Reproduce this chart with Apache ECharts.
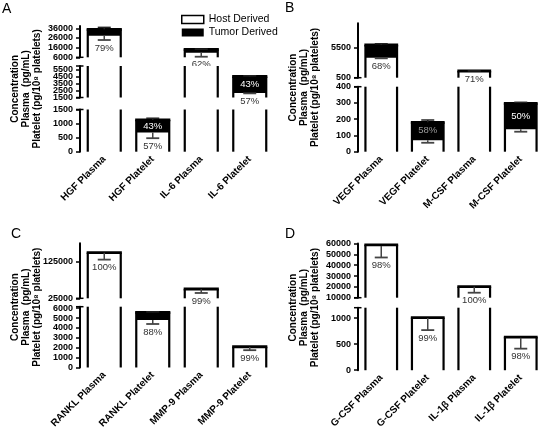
<!DOCTYPE html>
<html><head><meta charset="utf-8">
<script src="https://cdn.jsdelivr.net/npm/echarts@6/dist/echarts.min.js"></script>
<style>html,body{margin:0;padding:0;background:#fff}#c{width:544px;height:431px}</style>
</head><body><div id="c"></div>
<script>
// ---------- Panel A ----------
const catsA = ['HGF Plasma', 'HGF Platelet', 'IL-6 Plasma', 'IL-6 Platelet'];
const totalA = [35000, 1130, 14200, 4500];
const hostA = [28300, 680, 10700, 2150];
const errUpA = [2000, 60, 300, 100];
const errDownA = [4400, 200, 4100, 60];
const hostPctA = ['79%', '57%', '62%', '57%'];
const tumorPctA = ['', '43%', '', '43%'];
const rangesA = [[6000, 38400], [1500, 6000], [0, 1500]];
const ticksA = [[6000, 16000, 26000, 36000], [1500, 2500, 3500, 4500, 5500], [0, 500, 1000, 1500]];

// ---------- Panel B ----------
const catsB = ['VEGF Plasma', 'VEGF Platelet', 'M-CSF Plasma', 'M-CSF Platelet'];
const totalB = [5880, 181, 1600, 298];
const hostB = [3790, 70, 1550, 138];
const errUpB = [210, 14, 20, 6];
const errDownB = [100, 15, 0, 15];
const hostPctB = ['68%', '58%', '71%', ''];
const tumorPctB = ['', '', '', '50%'];
const rangesB = [[500, 9450], [0, 400]];
const ticksB = [[500, 5500], [0, 100, 200, 300, 400]];

// ---------- Panel C ----------
const catsC = ['RANKL Plasma', 'RANKL Platelet', 'MMP-9 Plasma', 'MMP-9 Platelet'];
const totalC = [149500, 5580, 50300, 2100];
const hostC = [149500, 4800, 49800, 2080];
const errUpC = [0, 50, 0, 0];
const errDownC = [19000, 400, 10300, 330];
const hostPctC = ['100%', '88%', '99%', '99%'];
const tumorPctC = ['', '', '', ''];
const rangesC = [[25000, 175000], [0, 6150]];
const ticksC = [[25000, 125000], [0, 1000, 2000, 3000, 4000, 5000, 6000]];

// ---------- Panel D ----------
const catsD = ['G-CSF Plasma', 'G-CSF Platelet', 'IL-1β Plasma', 'IL-1β Platelet'];
const totalD = [58800, 1010, 20200, 637];
const hostD = [57600, 1000, 20200, 624];
const errUpD = [0, 0, 0, 0];
const errDownD = [10500, 230, 5600, 210];
const hostPctD = ['98%', '99%', '100%', '98%'];
const tumorPctD = ['', '', '', ''];
const rangesD = [[10000, 60000], [0, 1200]];
const ticksD = [[10000, 20000, 30000, 40000, 50000, 60000], [0, 500, 1000]];

const legendNames = ['Host Derived', 'Tumor Derived'];
const titleLines = ['Concentration', 'Plasma  (pg/mL)', 'Platelet (pg/10\u2078 platelets)'];

const FONT = '"Liberation Sans", Arial, Helvetica, sans-serif';

const panels = [
  {letter: 'A', cats: catsA, total: totalA, host: hostA, up: errUpA, down: errDownA, hp: hostPctA, tp: tumorPctA, ranges: rangesA, ticks: ticksA,
   left: 80, segs: [[26, 31.3], [66, 31.5], [109.5, 42.2]], letterPos: [2, 2]},
  {letter: 'B', cats: catsB, total: totalB, host: hostB, up: errUpB, down: errDownB, hp: hostPctB, tp: tumorPctB, ranges: rangesB, ticks: ticksB,
   left: 358, segs: [[23.3, 54.4], [86.7, 65]], letterPos: [285, 1]},
  {letter: 'C', cats: catsC, total: totalC, host: hostC, up: errUpC, down: errDownC, hp: hostPctC, tp: tumorPctC, ranges: rangesC, ticks: ticksC,
   left: 80, segs: [[243.3, 55], [306.7, 64.3]], letterPos: [11, 227]},
  {letter: 'D', cats: catsD, total: totalD, host: hostD, up: errUpD, down: errDownD, hp: hostPctD, tp: tumorPctD, ranges: rangesD, ticks: ticksD,
   left: 358, segs: [[243.5, 54.2], [307.7, 64]], letterPos: [285, 227]}
];

const grid = [], xAxis = [], yAxis = [], series = [], graphic = [];

function makeRender(P, sIdx) {
  const [lo, hi] = P.ranges[sIdx];
  const nSeg = P.ranges.length;
  return function (params, api) {
    const i = api.value(0);
    const cs = params.coordSys;
    const yTop = cs.y, yBot = cs.y + cs.height;
    const cl = v => Math.max(yTop, Math.min(yBot, v));
    const yOf = v => api.coord([i, v])[1];
    const xc = api.coord([i, 0])[0];
    const bw = api.size([1, 0])[0] * 0.68;
    const x0 = xc - bw / 2, x1 = xc + bw / 2;
    const total = api.value(1), host = api.value(2), up = api.value(3), down = api.value(4);
    const py0 = yOf(0), pyH = yOf(host), pyT = yOf(total);
    const ch = [];
    const inSeg = v => v >= lo - 1e-9 && v <= hi + 1e-9;
    let a = cl(pyH), b = cl(py0);
    if (b - a > 0) ch.push({type: 'rect', shape: {x: x0, y: a, width: bw, height: b - a}, style: {fill: '#fff'}});
    a = cl(pyT); b = cl(pyH);
    if (b - a > 0) ch.push({type: 'rect', shape: {x: x0, y: a, width: bw, height: b - a}, style: {fill: '#000'}});
    a = cl(pyT); b = cl(py0);
    if (b - a > 0) {
      ch.push({type: 'line', shape: {x1: x0, y1: a, x2: x0, y2: b}, style: {stroke: '#000', lineWidth: 2.2}});
      ch.push({type: 'line', shape: {x1: x1, y1: a, x2: x1, y2: b}, style: {stroke: '#000', lineWidth: 2.2}});
    }
    if (inSeg(total)) ch.push({type: 'line', shape: {x1: x0 - 1.1, y1: pyT, x2: x1 + 1.1, y2: pyT}, style: {stroke: '#000', lineWidth: 2.8}});
    const capW = 6.5;
    if (up > 0) {
      const pe = yOf(total + up);
      a = cl(pe); b = cl(pyT);
      if (b - a > 0) ch.push({type: 'line', shape: {x1: xc, y1: a, x2: xc, y2: b}, style: {stroke: '#222', lineWidth: 1.5}});
      if (inSeg(total + up)) ch.push({type: 'line', shape: {x1: xc - capW, y1: pe, x2: xc + capW, y2: pe}, style: {stroke: '#222', lineWidth: 1.5}});
    }
    if (down > 0) {
      const pe = yOf(host - down);
      a = cl(pyH); b = cl(pe);
      if (b - a > 0) ch.push({type: 'line', shape: {x1: xc, y1: a, x2: xc, y2: b}, style: {stroke: '#444', lineWidth: 1.5}});
      if (inSeg(host - down)) ch.push({type: 'line', shape: {x1: xc - capW, y1: pe, x2: xc + capW, y2: pe}, style: {stroke: '#444', lineWidth: 1.8}});
    }
    const hp = P.hp[i];
    if (hp && inSeg(host)) {
      let ly = Math.max(pyH, yOf(host - down)) + 8;
      let col = '#333';
      if (lo === 0 && ly > py0 - 4) { ly = pyH - 10; col = '#999'; }
      ch.push({type: 'text', x: xc, y: ly, style: {text: hp, fill: col, fontSize: 9.5, fontFamily: FONT, align: 'center', verticalAlign: 'middle'}});
    }
    const tp = P.tp[i];
    if (tp && inSeg(total)) {
      const ly = (pyT + cl(pyH)) / 2;
      ch.push({type: 'text', x: xc, y: ly, style: {text: tp, fill: '#fff', fontSize: 9.5, fontFamily: FONT, align: 'center', verticalAlign: 'middle'}});
    }
    if (params.dataIndex === 0) {
      const ax = cs.x;
      if (sIdx > 0) ch.push({type: 'line', shape: {x1: ax - 4, y1: yTop, x2: ax + 3.5, y2: yTop}, style: {stroke: '#000', lineWidth: 1.5}});
      if (sIdx < nSeg - 1) ch.push({type: 'line', shape: {x1: ax - 4, y1: yBot, x2: ax + 3.5, y2: yBot}, style: {stroke: '#000', lineWidth: 1.5}});
    }
    return {type: 'group', children: ch};
  };
}

function yAxisDef(g, range, vals, showLine) {
  return {
    type: 'value', gridIndex: g, position: 'left', min: range[0], max: range[1],
    axisLine: {show: showLine, lineStyle: {color: '#000', width: 2}},
    axisTick: {show: true, length: 4, customValues: vals, lineStyle: {color: '#000', width: 1.5}},
    axisLabel: {customValues: vals, formatter: v => String(v), hideOverlap: false, showMinLabel: true, showMaxLabel: true,
      fontSize: 9, fontWeight: 'bold', color: '#000', fontFamily: FONT, margin: 7},
    splitLine: {show: false}
  };
}

panels.forEach(P => {
  const nSeg = P.ranges.length;
  P.segs.forEach((sg, s) => {
    const g = grid.length;
    grid.push({left: P.left, top: sg[0], width: 194, height: sg[1], containLabel: false});
    const last = s === nSeg - 1;
    xAxis.push({
      type: 'category', gridIndex: g, data: P.cats, show: last,
      axisLine: {show: false}, axisTick: {show: false},
      axisLabel: {show: last, rotate: 45, margin: 6, interval: 0, fontSize: 10, fontWeight: 'bold', color: '#000', fontFamily: FONT}
    });
    const tk = P.ticks[s];
    const yi = yAxis.length;
    yAxis.push(yAxisDef(g, P.ranges[s], tk.filter((v, k) => k % 2 === 0), true));
    const odd = tk.filter((v, k) => k % 2 === 1);
    if (odd.length) yAxis.push(yAxisDef(g, P.ranges[s], odd, false));
    series.push({
      type: 'custom', xAxisIndex: g, yAxisIndex: yi, clip: false, silent: true,
      renderItem: makeRender(P, s),
      encode: {x: 0, y: 1},
      data: P.cats.map((c, i) => [i, P.total[i], P.host[i], P.up[i], P.down[i]])
    });
  });
  const yMid = (P.segs[0][0] + P.segs[nSeg - 1][0] + P.segs[nSeg - 1][1]) / 2;
  const offs = [65, 54, 43];
  titleLines.forEach((t, k) => {
    graphic.push({type: 'text', x: P.left - offs[k], y: yMid, rotation: Math.PI / 2,
      style: {text: t, fill: '#000', fontSize: 10, fontWeight: 'bold', fontFamily: FONT, align: 'center', verticalAlign: 'middle'}});
  });
  graphic.push({type: 'text', x: P.letterPos[0], y: P.letterPos[1],
    style: {text: P.letter, fill: '#000', fontSize: 14, fontFamily: FONT, align: 'left', verticalAlign: 'top'}});
});

series.push({type: 'bar', name: legendNames[0], xAxisIndex: 0, yAxisIndex: 0, data: [], itemStyle: {color: '#fff', borderColor: '#000', borderWidth: 1.5}});
series.push({type: 'bar', name: legendNames[1], xAxisIndex: 0, yAxisIndex: 0, data: [], itemStyle: {color: '#000'}});

const chart = echarts.init(document.getElementById('c'), null, {renderer: 'canvas'});
chart.setOption({
  animation: false,
  backgroundColor: '#fff',
  grid, xAxis, yAxis, series, graphic,
  legend: {
    left: 176, top: 9, orient: 'vertical', itemWidth: 22, itemHeight: 8, itemGap: 2, selectedMode: false,
    textStyle: {fontSize: 10.5, color: '#000', fontFamily: FONT},
    data: [
      {name: legendNames[0], icon: 'rect', itemStyle: {color: '#fff', borderColor: '#000', borderWidth: 1.5}},
      {name: legendNames[1], icon: 'rect', itemStyle: {color: '#000', borderWidth: 0}}
    ]
  }
});
</script></body></html>
